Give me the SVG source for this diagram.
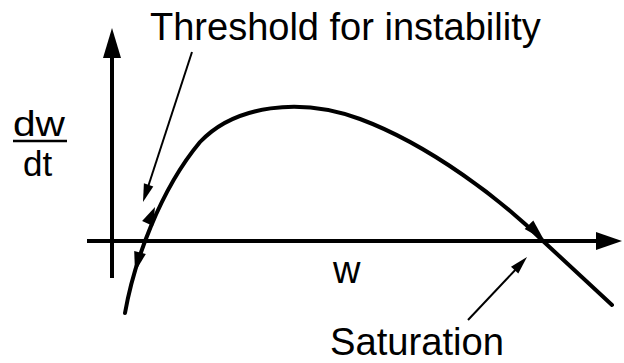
<svg xmlns="http://www.w3.org/2000/svg" width="624" height="363" viewBox="0 0 624 363">
<style>
.t{font-family:"Liberation Sans",Arial,sans-serif;font-size:38px;fill:#000}
.f{font-family:"Liberation Sans",Arial,sans-serif;font-size:35px;fill:#000}
.ax{stroke:#000;stroke-width:4;fill:none}
.cv{stroke:#000;stroke-width:4;fill:none;stroke-linecap:round}
.ptr{stroke:#000;stroke-width:2;fill:none}
.ah{fill:#000;stroke:none}
</style>
<rect width="624" height="363" fill="#fff"/>
<g id="axes">
<line class="ax" x1="112" y1="278" x2="112" y2="50"/>
<polygon class="ah" points="112,28 103,58 121,58"/>
<line class="ax" x1="87" y1="241" x2="600" y2="241"/>
<polygon class="ah" points="622,241 596,232 596,250"/>
</g>
<g id="curve">
<path class="cv" d="M125,313 C134,262 160,190 200,142 C235,105 300,97 360,119 C430,145 503,201 543,241 L612,305"/>
<polygon class="ah" points="155,207 153.1,225.9 142.1,220.9"/>
<polygon class="ah" points="135,272 145.8,254.1 134.2,251.1"/>
<polygon class="ah" points="544,240 533.3,220.6 524.7,229"/>
</g>
<g id="connectors">
<line class="ptr" x1="192" y1="52" x2="147" y2="190"/>
<polygon class="ah" points="143,202 153.3,186.4 143.9,183.3"/>
<line class="ptr" x1="468" y1="320" x2="519" y2="266"/>
<polygon class="ah" points="527,257 518.3,273.5 511,266.7"/>
</g>
<g id="labels">
<text class="t" x="150" y="40">Threshold for instability</text>
<text class="t" x="330" y="355" font-size="37" textLength="174" lengthAdjust="spacingAndGlyphs">Saturation</text>
<text class="t" x="333" y="283">w</text>
<text class="f" x="13" y="136" textLength="52" lengthAdjust="spacingAndGlyphs">dw</text>
<line x1="13" y1="141" x2="67" y2="141" stroke="#000" stroke-width="2.5"/>
<text class="f" x="23" y="176">dt</text>
</g>
</svg>
